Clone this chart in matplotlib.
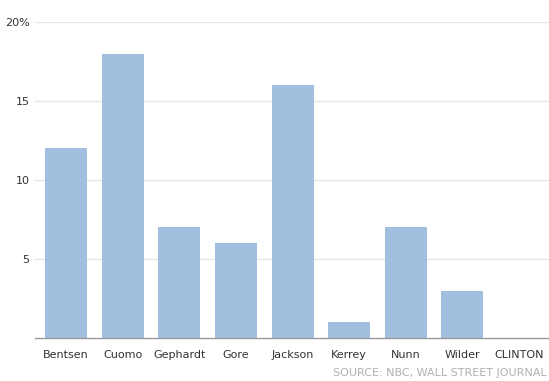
import matplotlib.pyplot as plt

candidates = ['Bentsen', 'Cuomo', 'Gephardt', 'Gore', 'Jackson', 'Kerrey', 'Nunn', 'Wilder', 'CLINTON']
support = [12, 18, 7, 6, 16, 1, 7, 3, 0]
yticks = [5, 10, 15, 20]
ytick_labels = ['5', '10', '15', '20%']

fig = plt.figure(figsize=(5.49, 3.81), dpi=100)
ax = fig.add_axes([35 / 549, 1 - 338 / 381, 1 - 35 / 549, 316 / 381])

x = range(len(candidates))
ax.bar(x, support, width=0.74, color='#a3bfe0', zorder=2)

ax.set_xlim(-0.55, 8.53)
ax.set_ylim(0, 20)
ax.set_yticks(yticks)
ax.set_yticklabels(ytick_labels)
ax.set_xticks(list(x))
ax.set_xticklabels(candidates)
ax.grid(axis='y', color='#e6e6e6', linewidth=1, zorder=0)
ax.tick_params(axis='both', length=0, labelsize=8, colors='#333333')
ax.tick_params(axis='x', pad=9)
ax.tick_params(axis='y', pad=4)

for s in ['top', 'right', 'left']:
    ax.spines[s].set_visible(False)
ax.spines['bottom'].set_color('#999999')
ax.spines['bottom'].set_linewidth(1)
ax.spines['bottom'].set_zorder(3)

# source line, kept whole at the right edge
fig.text(547 / 549, 1 - 373 / 381, 'SOURCE: NBC, WALL STREET JOURNAL',
         fontsize=8, color='#b0b0b0', va='center', ha='right')

fig.savefig('out.png', dpi=100)
